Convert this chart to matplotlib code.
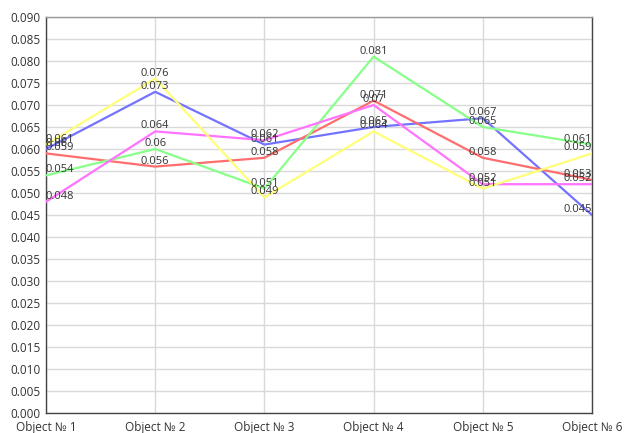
import matplotlib.pyplot as plt
from matplotlib.ticker import MultipleLocator, FormatStrFormatter

plt.rcParams['font.family'] = ['Open Sans', 'DejaVu Sans']

categories = ['Object № 1', 'Object № 2', 'Object № 3', 'Object № 4', 'Object № 5', 'Object № 6']
blue = [0.060, 0.073, 0.061, 0.065, 0.067, 0.045]
red = [0.059, 0.056, 0.058, 0.071, 0.058, 0.053]
green = [0.054, 0.060, 0.051, 0.081, 0.065, 0.061]
magenta = [0.048, 0.064, 0.062, 0.070, 0.052, 0.052]
yellow = [0.061, 0.076, 0.049, 0.064, 0.051, 0.059]

series = [
    (blue, '#7373ff'),
    (red, '#ff6e6e'),
    (green, '#88ff88'),
    (magenta, '#ff73ff'),
    (yellow, '#ffff78'),
]

fig = plt.figure(figsize=(6.25, 4.33), dpi=100)
ax = fig.add_axes([46 / 625, 20 / 433, 546 / 625, 396 / 433])

x = list(range(len(categories)))
for vals, col in series:
    ax.plot(x, vals, color=col, lw=1.6, zorder=3)

# value labels above each point
for vals, col in series:
    for i, v in enumerate(vals):
        ha = 'center'
        if i == 0:
            ha = 'left'
        elif i == len(vals) - 1:
            ha = 'right'
        ax.annotate(f'{v:g}', (i, v), xytext=(0, 0), textcoords='offset points',
                    ha=ha, va='bottom', fontsize=8, color='#333333', zorder=4)

ax.set_xlim(0, len(categories) - 1)
ax.set_ylim(0, 0.09)
ax.set_xticks(x)
ax.set_xticklabels(categories)
ax.yaxis.set_major_locator(MultipleLocator(0.005))
ax.yaxis.set_major_formatter(FormatStrFormatter('%.3f'))
ax.tick_params(axis='both', length=0, labelsize=8.5, colors='#333333', pad=4)
ax.tick_params(axis='x', pad=6)
ax.grid(True, color='#d9d9d9', lw=1, zorder=0)
for s in ax.spines.values():
    s.set_color('#444444')
    s.set_linewidth(1)
ax.spines['top'].set_color('#999999')

fig.savefig('out.png', dpi=100)
